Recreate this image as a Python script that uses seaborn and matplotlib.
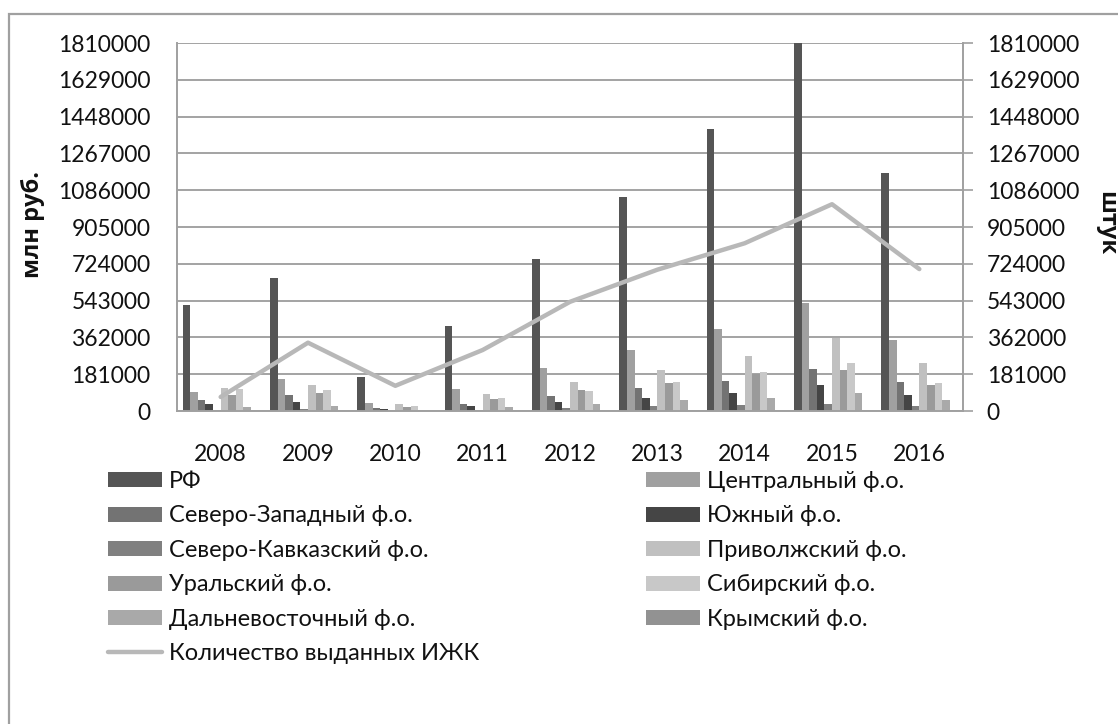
import numpy as np
import pandas as pd
import matplotlib
matplotlib.use("Agg")
import matplotlib.pyplot as plt
from matplotlib.patches import Patch, Rectangle
from matplotlib.lines import Line2D
import seaborn as sns

# --- data -------------------------------------------------------------
years = ["2008", "2009", "2010", "2011", "2012", "2013", "2014", "2015", "2016"]

districts = ["РФ", "Центральный ф.о.", "Северо-Западный ф.о.", "Южный ф.о.",
             "Северо-Кавказский ф.о.", "Приволжский ф.о.", "Уральский ф.о.",
             "Сибирский ф.о.", "Дальневосточный ф.о.", "Крымский ф.о."]

rf       = [521000, 654000, 167000, 418000, 747000, 1052000, 1387000, 1808000, 1170000]
central  = [93500, 157000, 39000, 108000, 211000, 300000, 403000, 531000, 349000]
nwest    = [54000, 79000, 15000, 34000, 74000, 113000, 148000, 206500, 143000]
south    = [34000, 44000, 10000, 25000, 44000, 64000, 88500, 128000, 79000]
ncauc    = [5000, 10000, 2000, 5000, 15000, 25000, 29500, 34000, 25000]
volga    = [113000, 128000, 34000, 84000, 143000, 202000, 270000, 359000, 236000]
ural     = [79000, 88500, 20000, 59000, 103000, 138000, 180000, 202000, 128000]
siberia  = [108000, 103000, 25000, 64000, 98000, 143000, 192000, 236000, 138000]
fareast  = [20000, 25000, 5000, 20000, 34000, 54000, 64000, 88500, 54000]
crimea   = [0, 0, 0, 0, 0, 0, 0, 0, 0]

loans_count = [69000, 336000, 124000, 300000, 537000, 695000, 825000, 1017000, 698000]

y_ticks = [0, 181000, 362000, 543000, 724000, 905000, 1086000, 1267000,
           1448000, 1629000, 1810000]

series = [rf, central, nwest, south, ncauc, volga, ural, siberia, fareast, crimea]
colors = ["#555555", "#a0a0a0", "#737373", "#454545", "#808080",
          "#c0c0c0", "#9a9a9a", "#c8c8c8", "#a9a9a9", "#929292"]
line_label = "Количество выданных ИЖК"

df = pd.DataFrame({
    "year": np.tile(years, len(districts)),
    "district": np.repeat(districts, len(years)),
    "value": np.concatenate(series),
})

# --- figure -----------------------------------------------------------
sns.set_style("white")
plt.rcParams["font.family"] = ["Lato", "Open Sans", "DejaVu Sans"]
FS = 16.5
W, H = 1118, 724
fig = plt.figure(figsize=(W / 100, H / 100), dpi=100)

# outer frame
fig.patches.append(Rectangle((9 / W, -0.05), 1.1, 1 - 14 / H + 0.05,
                             transform=fig.transFigure, fill=False,
                             edgecolor="#a0a0a0", linewidth=1.6))

ax = fig.add_axes([177 / W, 1 - 411 / H, (963 - 177) / W, 368 / H])
sns.barplot(data=df, x="year", y="value", hue="district", hue_order=districts,
            order=years, palette=colors, width=0.87, gap=0, saturation=1,
            legend=False, ax=ax, edgecolor="none")

ax.set_ylim(0, 1810000)
ax.set_xlim(-0.5, len(years) - 0.5)
ax.set_yticks(y_ticks)
ax.set_yticklabels([str(t) for t in y_ticks])
ax.yaxis.grid(True, color="#a3a3a3", linewidth=1.4)
ax.set_axisbelow(True)
ax.set_xlabel("")
ax.set_ylabel("")
ax.tick_params(axis="y", length=0, pad=19, labelsize=FS, labelcolor="#111111")
ax.tick_params(axis="x", length=0, pad=24, labelsize=FS, labelcolor="#111111")
for side in ["top", "right"]:
    ax.spines[side].set_visible(False)
for side in ["left", "bottom"]:
    ax.spines[side].set_color("#a0a0a0")
    ax.spines[side].set_linewidth(1.4)

ax2 = ax.twinx()
sns.lineplot(x=np.arange(len(years)), y=loans_count, ax=ax2,
             color="#b8b8b8", linewidth=3.2)
ax2.set_xlim(-0.5, len(years) - 0.5)
ax2.set_ylim(0, 1810000)
ax2.set_yticks(y_ticks)
ax2.set_yticklabels([str(t) for t in y_ticks])
ax2.tick_params(axis="y", direction="out", length=7, width=1.2, color="#a0a0a0",
                pad=10, labelsize=FS, labelcolor="#111111")
for side in ["top", "left", "bottom"]:
    ax2.spines[side].set_visible(False)
ax2.spines["right"].set_color("#a0a0a0")
ax2.spines["right"].set_linewidth(1.4)

# axis titles (bold face)
title_font = ["Open Sans", "DejaVu Sans"]
fig.text(33 / W, 1 - 224 / H, "млн руб.", rotation=90, ha="center", va="center",
         fontsize=17, fontweight="bold", color="#111111", family=title_font)
fig.text(1106 / W, 1 - 223 / H, "штук", rotation=-90, ha="center", va="center",
         fontsize=17, fontweight="bold", color="#111111", family=title_font)

# legend: two columns
patches = {d: Patch(facecolor=c, edgecolor="none", label=d)
           for d, c in zip(districts, colors)}
left_items = [patches[districts[i]] for i in (0, 2, 4, 6, 8)] + \
             [Line2D([], [], color="#b8b8b8", linewidth=3.2, label=line_label)]
right_items = [patches[districts[i]] for i in (1, 3, 5, 7, 9)]

LFS = 17
common = dict(frameon=False, fontsize=LFS, handlelength=54 / (LFS * 1.389),
              handleheight=0.6, handletextpad=0.28, labelspacing=0.57,
              borderpad=0, borderaxespad=0, loc="upper left")
leg1 = fig.legend(handles=left_items, bbox_to_anchor=(108 / W, 1 - 471 / H), **common)
leg2 = fig.legend(handles=right_items, bbox_to_anchor=(646 / W, 1 - 471 / H), **common)
for lg in (leg1, leg2):
    for t in lg.get_texts():
        t.set_color("#111111")

fig.savefig("out.png", dpi=100)
